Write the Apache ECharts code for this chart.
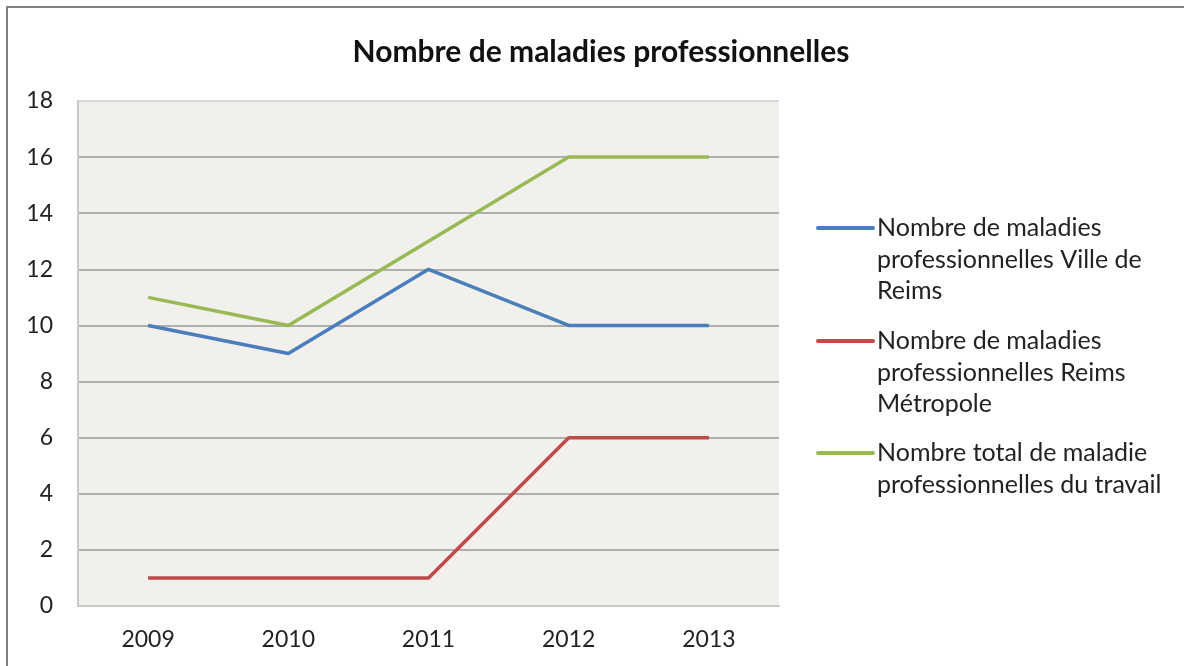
<!DOCTYPE html>
<html>
<head>
<meta charset="utf-8">
<script src="https://cdn.jsdelivr.net/npm/echarts@6/dist/echarts.min.js"></script>
<style>
  html, body { margin: 0; padding: 0; background: #fff; }
  #frame {
    position: absolute; left: 6px; top: 6px; width: 1200px; height: 700px;
    border-left: 2px solid #7f7f7f; border-top: 2px solid #7f7f7f;
  }
  #chart { position: absolute; left: 0; top: 0; width: 1184px; height: 666px; }
</style>
</head>
<body>
<div id="frame"></div>
<div id="chart"></div>
<script>
// données
const years = ['2009', '2010', '2011', '2012', '2013']
const villeReims = [10, 9, 12, 10, 10]
const reimsMetropole = [1, 1, 1, 6, 6]
const totalMaladies = [11, 10, 13, 16, 16]
const seriesNames = [
  'Nombre de maladies\nprofessionnelles Ville de\nReims',
  'Nombre de maladies\nprofessionnelles Reims\nMétropole',
  'Nombre total de maladie\nprofessionnelles du travail'
]
const seriesColors = ['#4a7ebb', '#be4b48', '#98b954']
const yTicks = { min: 0, max: 18, interval: 2 }

const font = 'Lato, "Liberation Sans", sans-serif'

// légende dessinée à la main : trait aligné sur la première ligne du texte
const legendY = [228, 341, 453]
const legendGraphics = []
seriesNames.forEach((name, i) => {
  legendGraphics.push({
    type: 'line',
    shape: { x1: 818, y1: legendY[i], x2: 873, y2: legendY[i] },
    style: { stroke: seriesColors[i], lineWidth: 4, lineCap: 'round' }
  })
  legendGraphics.push({
    type: 'text',
    x: 877,
    y: legendY[i] - 15.75,
    style: {
      text: name,
      font: '25px ' + font,
      fill: '#222',
      lineHeight: 31.5,
      verticalAlign: 'top'
    }
  })
})

const chart = echarts.init(document.getElementById('chart'))
chart.setOption({
  animation: false,
  title: {
    text: 'Nombre de maladies professionnelles',
    left: 596,
    textAlign: 'center',
    top: 32,
    textStyle: { fontFamily: font, fontSize: 30, fontWeight: 'bold', color: '#111' }
  },
  grid: {
    left: 78,
    right: 1184 - 779,
    top: 101,
    bottom: 666 - 606,
    show: true,
    backgroundColor: '#f1f0ec',
    borderWidth: 0
  },
  xAxis: {
    type: 'category',
    data: years,
    boundaryGap: true,
    axisLine: { lineStyle: { color: '#c8c8c8', width: 2 } },
    axisTick: { show: false },
    axisLabel: { color: '#222', fontFamily: font, fontSize: 23, margin: 22 }
  },
  yAxis: {
    type: 'value',
    min: yTicks.min,
    max: yTicks.max,
    interval: yTicks.interval,
    axisLine: { show: true, lineStyle: { color: '#c8c8c8', width: 2 } },
    axisTick: { show: false },
    splitLine: { lineStyle: { color: ['#9a9a9a', '#9a9a9a', '#9a9a9a', '#9a9a9a', '#9a9a9a', '#9a9a9a', '#9a9a9a', '#9a9a9a', '#9a9a9a', '#cfcfcf'], width: 1.5 } },
    axisLabel: { color: '#222', fontFamily: font, fontSize: 23, margin: 25 }
  },
  series: [
    { name: seriesNames[0], type: 'line', data: villeReims },
    { name: seriesNames[1], type: 'line', data: reimsMetropole },
    { name: seriesNames[2], type: 'line', data: totalMaladies }
  ].map((s, i) => Object.assign(s, {
    symbol: 'none',
    lineStyle: { color: seriesColors[i], width: 3.5 },
    itemStyle: { color: seriesColors[i] }
  })),
  graphic: legendGraphics
})
</script>
</body>
</html>
